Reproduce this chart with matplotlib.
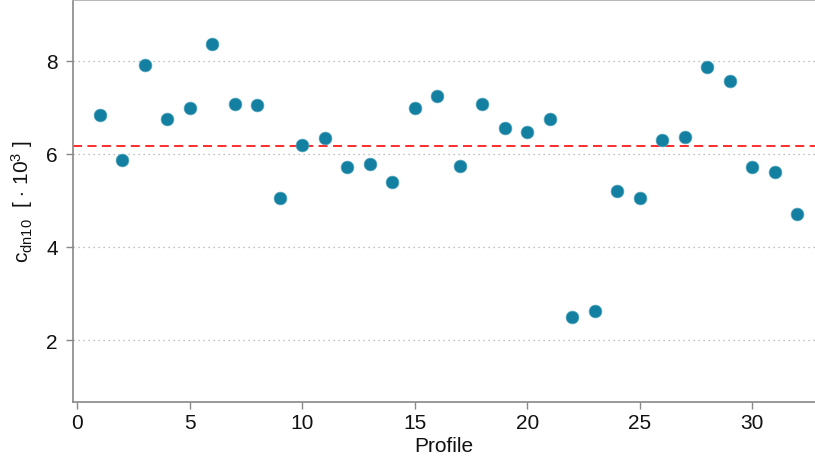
import numpy as np
import matplotlib
matplotlib.use("Agg")
import matplotlib.pyplot as plt

plt.rcParams['font.family'] = ['Liberation Sans', 'DejaVu Sans']
plt.rcParams['mathtext.fontset'] = 'custom'
plt.rcParams['mathtext.rm'] = 'Liberation Sans'
plt.rcParams['mathtext.it'] = 'Liberation Sans:italic'

profiles = list(range(1, 33))
cdn10 = [6.84, 5.86, 7.91, 6.74, 6.99, 8.36, 7.06, 7.04, 5.04, 6.18,
         6.33, 5.71, 5.77, 5.39, 6.99, 7.23, 5.73, 7.06, 6.56, 6.46,
         6.74, 2.49, 2.62, 5.19, 5.04, 6.29, 6.35, 7.87, 7.57, 5.71,
         5.60, 4.70]
xticks = [0, 5, 10, 15, 20, 25, 30]
yticks = [2, 4, 6, 8]

fig = plt.figure(figsize=(8.15, 4.6), dpi=100)
ax = fig.add_axes([73/815, 57/460, 742/815, 402/460])

ax.scatter(profiles, cdn10, s=85, color='#1380A1', edgecolor='#5aa8c0',
           linewidth=0.5, zorder=3)
ax.axhline(np.mean(cdn10), color='#ff1a1a', linestyle=(0, (5, 3)), linewidth=1.3, zorder=2)

ax.set_xlim(-0.2, 32.8)
ax.set_ylim(0.67, 9.3)
ax.set_xticks(xticks)
ax.set_yticks(yticks)
ax.yaxis.grid(True, linestyle=(0, (1, 3)), color='#aaaaaa', linewidth=0.9)
ax.set_axisbelow(True)

for side in ['left', 'bottom']:
    ax.spines[side].set_color('#888888')
    ax.spines[side].set_linewidth(1.2)
ax.spines['top'].set_color('#aaaaaa')
ax.spines['top'].set_linewidth(1.2)
ax.spines['right'].set_visible(False)

ax.tick_params(axis='both', direction='out', length=5, width=1, color='#888888',
               labelsize=15, labelcolor='#111111')
ax.tick_params(axis='y', pad=6)
ax.tick_params(axis='x', pad=3)

ax.set_xlabel('Profile', fontsize=15, color='#111111', labelpad=3)
ax.set_ylabel(r'c$_{\mathrm{dn10}}$  [ $\cdot$ 10$^3$ ]', fontsize=15, color='#111111', labelpad=8)

fig.savefig('out.png', dpi=100)
